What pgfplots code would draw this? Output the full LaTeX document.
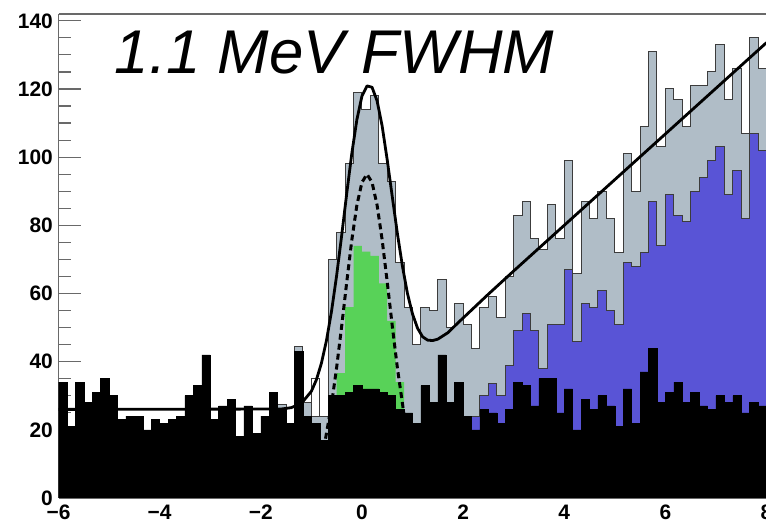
\documentclass[border=0pt]{standalone}
\usepackage{fontspec}
\setmainfont{Liberation Sans}
\usepackage{pgfplots}
\pgfplotsset{compat=1.18}
\usepackage{pgfplotstable}

\definecolor{hgray}{RGB}{176,189,199}
\definecolor{hblue}{RGB}{89,84,214}
\definecolor{hgreen}{RGB}{88,210,88}
\definecolor{hline}{RGB}{60,60,60}
\definecolor{axgray}{RGB}{105,105,105}

% bin left edges (width 1/6), stacked heights
\pgfplotstableread{
x black blue green tot
-6.0000 34 0 0 0
-5.8333 21 0 0 0
-5.6667 34 0 0 0
-5.5000 28 0 0 0
-5.3333 31 0 0 0
-5.1667 35 0 0 0
-5.0000 30 0 0 0
-4.8333 23 0 0 0
-4.6667 24 0 0 0
-4.5000 24 0 0 0
-4.3333 20 0 0 0
-4.1667 23 0 0 0
-4.0000 22 0 0 0
-3.8333 23 0 0 0
-3.6667 24 0 0 0
-3.5000 30 0 0 0
-3.3333 33 0 0 0
-3.1667 42 0 0 0
-3.0000 23 0 0 0
-2.8333 27 0 0 0
-2.6667 29 0 0 0
-2.5000 18 0 0 0
-2.3333 27 0 0 0
-2.1667 19 0 0 0
-2.0000 24 0 0 0
-1.8333 31 0 0 0
-1.6667 26 0 0 27.5
-1.5000 22 0 0 22
-1.3333 43 0 0 44.5
-1.1667 24 0 0 28
-1.0000 22 0 0 35
-0.8333 17 0 0 24
-0.6667 30 0 0 70
-0.5000 30 0 36.6 78
-0.3333 31 0 56 98
-0.1667 33 0 74 119
0.0000 32 0 72.3 114
0.1667 32 0 71 118
0.3333 31 0 63 98
0.5000 30 0 52 93
0.6667 26 0 34 69
0.8333 25 0 0 56
1.0000 22 0 0 45
1.1667 33 0 0 56
1.3333 28 0 0 55
1.5000 42 0 0 64
1.6667 28 0 0 50
1.8333 34 0 0 57
2.0000 24 0 0 51
2.1667 20 24 0 44
2.3333 26 30 0 56
2.5000 25 33.5 0 59
2.6667 22 30 0 53
2.8333 26 39 0 65
3.0000 34 49 0 83
3.1667 33 54 0 87
3.3333 27 49 0 76
3.5000 35 38 0 73
3.6667 35 51 0 86
3.8333 25 51 0 76
4.0000 32 67 0 99
4.1667 20 46 0 66
4.3333 29 57 0 87
4.5000 26 56 0 82
4.6667 30 61 0 90
4.8333 27 55 0 82
5.0000 21 51 0 72
5.1667 32 69 0 101
5.3333 22 68 0 90
5.5000 37 72 0 109
5.6667 44 87 0 131
5.8333 28 74 0 103
6.0000 31 89 0 120
6.1667 34 83 0 117
6.3333 28 81 0 109
6.5000 31 90 0 121
6.6667 27 94 0 121
6.8333 26 99 0 125
7.0000 30 103 0 133
7.1667 28 89 0 117
7.3333 30 96 0 126
7.5000 25 82 0 107
7.6667 28 107 0 135
7.8333 27 102 0 126
8.0000 27 102 0 126
}\hist

\begin{document}
\begin{tikzpicture}
\begin{axis}[
  at={(0,0)}, anchor=south west, scale only axis,
  width=708bp, height=484bp,
  xmin=-6, xmax=8, ymin=0, ymax=142,
  axis x line*=box, axis y line*=left,
  axis line style={draw=axgray, line width=1.2bp},
  xtick={-6,-4,...,8},
  xticklabels={−6,−4,−2,0,2,4,6,8},
  xtick style={draw=none},
  ytick={0,20,...,140},
  minor y tick num=3,
  ytick style={draw=axgray, line width=1.2bp},
  major tick length=22bp, minor tick length=12bp,
  tick align=inside,
  ticklabel style={font=\bfseries\fontsize{21}{21}\selectfont},
  /pgf/number format/assume math mode=true,
  yticklabel style={anchor=east, inner sep=0pt, xshift=-5.5bp},
  xticklabel style={anchor=north, inner sep=0pt, yshift=-7bp},
]
\addplot[const plot, fill=hgray, draw=hline, line width=1bp] table[x=x, y=tot] {\hist} \closedcycle;
% hollow bin
\addplot[fill=white, draw=hline, line width=1bp] coordinates {(-1.0,24) (-1.0,35) (-0.8333,35) (-0.8333,24)} -- cycle;
\addplot[const plot, fill=hblue, draw=hline, line width=1bp] table[x=x, y=blue] {\hist} \closedcycle;
\addplot[const plot, fill=hgreen, draw=none] table[x=x, y=green] {\hist} \closedcycle;
\addplot[const plot, fill=black, draw=black, line width=0.5bp] table[x=x, y=black] {\hist} \closedcycle;

% gaussian component
\addplot[black, line width=3bp, dash pattern=on 6bp off 4bp] coordinates {
(-0.72,17.4) (-0.6,27.6) (-0.5,38.3) (-0.4,50.5) (-0.3,63.4) (-0.2,75.7)
(-0.1,85.9) (0,92.6) (0.1,95) (0.2,92.6) (0.3,85.9) (0.4,75.7) (0.5,63.4)
(0.6,50.5) (0.7,38.3) (0.83,24.7)};

% total fit
\addplot[black, line width=2.8bp, line join=round] coordinates {
(-6,26) (-1.6,26.1) (-1.4,26.5) (-1.2,27.7) (-1.0,31.3) (-0.9,34.7)
(-0.8,39.6) (-0.7,46.3) (-0.6,54.9) (-0.5,65.3) (-0.4,77.1) (-0.3,89.4)
(-0.2,101.1) (-0.1,111) (0,117.9) (0.1,120.9) (0.2,120.5) (0.3,116.5)
(0.4,109.1) (0.5,99.2) (0.6,88.4) (0.7,77.7) (0.8,68.1) (0.9,60)
(1.0,54) (1.1,49.8) (1.2,47.3) (1.3,46.3) (1.4,46.2) (1.5,46.6)
(1.7,48.5) (1.9,51.4) (2.2,55.6) (2.5,59.8) (3,66.6) (4,80) (5,93.4)
(6,106.8) (7,120.2) (8,133.6)};

\node[anchor=base west, inner sep=0pt, font=\itshape\fontsize{62}{62}\selectfont]
  at (axis cs:-4.89,124.6) {1.1 MeV FWHM};
\end{axis}
\pgfresetboundingbox
\useasboundingbox (-58.5bp,-30bp) rectangle (707.5bp,498bp);
\end{tikzpicture}
\end{document}
